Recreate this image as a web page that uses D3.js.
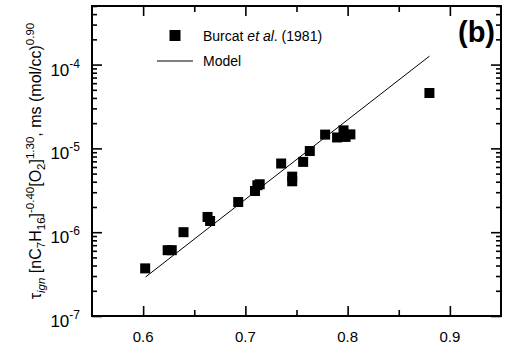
<!DOCTYPE html>
<html>
<head>
<meta charset="utf-8">
<script src="https://cdn.jsdelivr.net/npm/d3@7"></script>
<style>
  body { margin: 0; background: #fff; }
  text { font-family: "Liberation Sans", Arial, sans-serif; fill: #000; }
</style>
</head>
<body>
<div id="chart"></div>
<script>
//--------------------------------------------------------------
// DATA
//--------------------------------------------------------------
// Burcat et al. (1981) points: x = 1000/T, y = normalized tau
var burcatX = [0.602, 0.624, 0.628, 0.6395, 0.663, 0.6655, 0.693, 0.7094, 0.7117, 0.714,
               0.735, 0.7458, 0.7458, 0.7565, 0.763, 0.778, 0.7897, 0.796, 0.798, 0.8027, 0.880];
var burcatY = [3.7e-7, 6.1e-7, 6.1e-7, 1.0e-6, 1.52e-6, 1.36e-6, 2.29e-6, 3.1e-6, 3.63e-6, 3.73e-6,
               6.6e-6, 4.6e-6, 4.05e-6, 6.9e-6, 9.3e-6, 1.46e-5, 1.35e-5, 1.64e-5, 1.37e-5, 1.47e-5, 4.58e-5];

// model line endpoints
var modelX = [0.6024, 0.880];
var modelY = [2.92e-7, 1.26e-4];

var xTicks = [0.6, 0.7, 0.8, 0.9];
var xMinorTicks = [0.65, 0.75, 0.85];
var yDecades = [-7, -6, -5, -4];

//--------------------------------------------------------------
// SIZE
//--------------------------------------------------------------
var width = 508, height = 347;
var margin = { top: 6, right: 7, bottom: 31, left: 92 };
var chartWidth = width - margin.left - margin.right;
var chartHeight = height - margin.top - margin.bottom;

var svg = d3.select("#chart").append("svg")
   .attr("width", width)
   .attr("height", height);

var chartGroup = svg.append("g")
   .attr("transform", `translate(${margin.left}, ${margin.top})`);

var xScale = d3.scaleLinear().domain([0.55, 0.95]).range([0, chartWidth]);
var yScale = d3.scaleLog().domain([1e-7, 5e-4]).range([chartHeight, 0]);

// minor log ticks 2..9 in each decade inside the domain
var yMinor = [];
yDecades.forEach(function(e) {
   for (var m = 2; m <= 9; m++) {
      var v = m * Math.pow(10, e);
      if (v <= 5e-4) yMinor.push(v);
   }
});
var yMajor = yDecades.map(e => Math.pow(10, e));

//--------------------------------------------------------------
// AXES (ticks pointing inward on all four sides)
//--------------------------------------------------------------
function tickAxis(axisFn, scale, values, len) {
   return axisFn(scale).tickValues(values).tickSize(len).tickFormat("");
}

function drawTicks(g) {
   g.select(".domain").remove();
   g.selectAll(".tick line").attr("stroke", "#000").attr("stroke-width", 1.6);
}

// bottom
chartGroup.append("g").attr("transform", `translate(0,${chartHeight})`)
   .call(tickAxis(d3.axisTop, xScale, xTicks, 10)).call(drawTicks);
chartGroup.append("g").attr("transform", `translate(0,${chartHeight})`)
   .call(tickAxis(d3.axisTop, xScale, xMinorTicks, 6)).call(drawTicks);
// top
chartGroup.append("g")
   .call(tickAxis(d3.axisBottom, xScale, xTicks, 10)).call(drawTicks);
chartGroup.append("g")
   .call(tickAxis(d3.axisBottom, xScale, xMinorTicks, 6)).call(drawTicks);
// left
chartGroup.append("g")
   .call(tickAxis(d3.axisRight, yScale, yMajor, 10)).call(drawTicks);
chartGroup.append("g")
   .call(tickAxis(d3.axisRight, yScale, yMinor, 5)).call(drawTicks);
// right
chartGroup.append("g").attr("transform", `translate(${chartWidth},0)`)
   .call(tickAxis(d3.axisLeft, yScale, yMajor, 10)).call(drawTicks);
chartGroup.append("g").attr("transform", `translate(${chartWidth},0)`)
   .call(tickAxis(d3.axisLeft, yScale, yMinor, 5)).call(drawTicks);

// frame
chartGroup.append("rect")
   .attr("width", chartWidth)
   .attr("height", chartHeight)
   .attr("fill", "none")
   .attr("stroke", "#000")
   .attr("stroke-width", 2);

// x tick labels
chartGroup.selectAll(".xlab").data(xTicks).enter().append("text")
   .attr("class", "xlab")
   .attr("x", d => xScale(d))
   .attr("y", chartHeight + 26)
   .attr("text-anchor", "middle")
   .attr("font-size", 15)
   .text(d => d3.format(".1f")(d));

// y tick labels 10^n
var yLab = chartGroup.selectAll(".ylab").data(yDecades).enter().append("text")
   .attr("class", "ylab")
   .attr("x", -12)
   .attr("y", d => yScale(Math.pow(10, d)) + 11)
   .attr("text-anchor", "end")
   .attr("font-size", 17);
yLab.append("tspan").text("10");
yLab.append("tspan").attr("dy", -8).attr("font-size", 12).text(d => "-" + Math.abs(d));

//--------------------------------------------------------------
// MODEL LINE + DATA
//--------------------------------------------------------------
var modelData = modelX.map((x, i) => ({ x: x, y: modelY[i] }));
chartGroup.append("path")
   .datum(modelData)
   .attr("fill", "none")
   .attr("stroke", "#000")
   .attr("stroke-width", 1)
   .attr("d", d3.line().x(d => xScale(d.x)).y(d => yScale(d.y)));

var sq = 10;
var pts = burcatX.map((x, i) => ({ x: x, y: burcatY[i] }));
chartGroup.selectAll(".pt").data(pts).enter().append("rect")
   .attr("class", "pt")
   .attr("x", d => xScale(d.x) - sq / 2)
   .attr("y", d => yScale(d.y) - sq / 2)
   .attr("width", sq)
   .attr("height", sq)
   .attr("fill", "#000");

//--------------------------------------------------------------
// LEGEND
//--------------------------------------------------------------
svg.append("rect")
   .attr("x", 169.5).attr("y", 30).attr("width", 11).attr("height", 11)
   .attr("fill", "#000");
var leg1 = svg.append("text").attr("x", 203).attr("y", 40.5).attr("font-size", 14);
leg1.append("tspan").text("Burcat ");
leg1.append("tspan").attr("font-style", "italic").text("et al");
leg1.append("tspan").text(". (1981)");

svg.append("line")
   .attr("x1", 157).attr("x2", 193).attr("y1", 61).attr("y2", 61)
   .attr("stroke", "#000").attr("stroke-width", 1);
svg.append("text").attr("x", 203).attr("y", 66).attr("font-size", 14).text("Model");

// panel label
svg.append("text")
   .attr("x", 495).attr("y", 42)
   .attr("text-anchor", "end")
   .attr("font-size", 29)
   .attr("font-weight", "bold")
   .text("(b)");

//--------------------------------------------------------------
// Y AXIS TITLE
//--------------------------------------------------------------
var yTitle = svg.append("text")
   .attr("transform", `translate(41, ${margin.top + chartHeight / 2}) rotate(-90)`)
   .attr("text-anchor", "middle")
   .attr("font-size", 16);
yTitle.append("tspan").text("\u03C4");
yTitle.append("tspan").attr("dy", 4).attr("font-size", 11.5).attr("font-style", "italic").text("ign");
yTitle.append("tspan").attr("dy", -4).text(" [nC");
yTitle.append("tspan").attr("dy", 4).attr("font-size", 11.5).text("7");
yTitle.append("tspan").attr("dy", -4).text("H");
yTitle.append("tspan").attr("dy", 4).attr("font-size", 11.5).text("16");
yTitle.append("tspan").attr("dy", -4).text("]");
yTitle.append("tspan").attr("dy", -7).attr("font-size", 11.5).text("-0.40");
yTitle.append("tspan").attr("dy", 7).text("[O");
yTitle.append("tspan").attr("dy", 4).attr("font-size", 11.5).text("2");
yTitle.append("tspan").attr("dy", -4).text("]");
yTitle.append("tspan").attr("dy", -7).attr("font-size", 11.5).text("1.30");
yTitle.append("tspan").attr("dy", 7).text(", ms (mol/cc)");
yTitle.append("tspan").attr("dy", -7).attr("font-size", 11.5).text("0.90");
</script>
</body>
</html>
